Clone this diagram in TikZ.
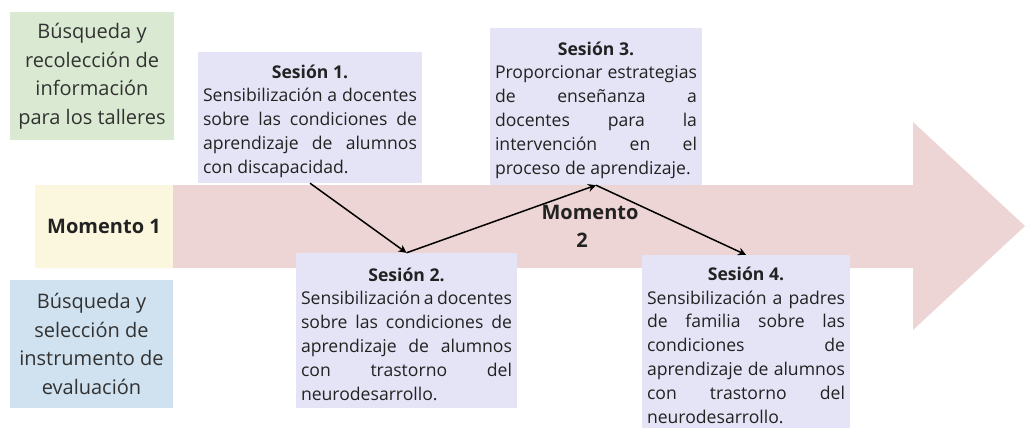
\documentclass[tikz,border=0pt]{standalone}
\usepackage{fontspec}
\setmainfont{Open Sans}
\usetikzlibrary{arrows.meta}
\definecolor{greenbox}{RGB}{218,234,210}
\definecolor{bluebox}{RGB}{208,226,240}
\definecolor{yellowbox}{RGB}{251,247,222}
\definecolor{pinkarrow}{RGB}{238,213,213}
\definecolor{sessfill}{RGB}{228,228,246}
\definecolor{txt}{RGB}{34,34,34}
\definecolor{sidetxt}{RGB}{50,50,50}
\newcommand\jl[1]{\makebox[\linewidth][s]{#1}\par}
\newcommand\ttl[1]{\spaceskip=0pt\relax\xspaceskip=0pt\relax\parindent=0pt\relax
  \makebox[\linewidth]{\bfseries #1}\par}
\newcommand\sessend{\par\kern-7pt}
\tikzset{
  sess/.style={fill=sessfill, text=txt, text width=#1, inner xsep=5pt, inner ysep=0pt,
    font=\fontsize{17.6}{23.8}\selectfont},
  side/.style={inner sep=0pt, align=center, text=sidetxt, font=\fontsize{20}{28.5}\selectfont},
  conn/.style={draw=black, line width=1.5pt, -{Stealth[length=8pt,width=8pt]}},
}
\begin{document}
\begin{tikzpicture}[x=1pt,y=-1pt]
\useasboundingbox (0,0) rectangle (1026,429);
% big arrow
\fill[pinkarrow] (35,185) -- (913,185) -- (913,122) -- (1025,226) -- (913,330) -- (913,268) -- (35,268) -- cycle;
% left boxes
\node[side, fill=greenbox, minimum width=164pt, minimum height=128pt] (g) at (92,76)
  {Búsqueda y\\recolección de\\información\\para los talleres};
\node[side, fill=bluebox, minimum width=163pt, minimum height=128pt] (b) at (91.5,344)
  {Búsqueda y\\selección de\\instrumento de\\evaluación};
\node[side, fill=yellowbox, minimum width=138pt, minimum height=83pt, text=txt, font=\fontsize{20}{27.5}\selectfont\bfseries] (m1) at (104,226.5)
  {Momento 1};
\node[side, text=txt, font=\fontsize{20}{28}\selectfont\bfseries] (m2) at (582,226)
  {\hspace*{16pt}Momento\\2};
% sessions
\node[sess=214pt, minimum height=131pt] (s1) at (310,117.5)
  {\ttl{Sesión 1.}\jl{Sensibilización a docentes}\jl{sobre las condiciones de}\jl{aprendizaje de alumnos}con discapacidad.\sessend};
\node[sess=211pt, minimum height=155pt] (s2) at (406.5,330.5)
  {\ttl{Sesión 2.}\jl{Sensibilización a docentes}\jl{sobre las condiciones de}\jl{aprendizaje de alumnos}\jl{con trastorno del}neurodesarrollo.\sessend};
\node[sess=202pt, minimum height=157pt] (s3) at (596,106.5)
  {\ttl{Sesión 3.}\jl{Proporcionar estrategias}\jl{de enseñanza a}\jl{docentes para la}\jl{intervención en el}proceso de aprendizaje.\sessend};
\node[sess=198pt, minimum height=173pt] (s4) at (746,341.5)
  {\ttl{Sesión 4.}\jl{Sensibilización a padres}\jl{de familia sobre las}\jl{condiciones de}\jl{aprendizaje de alumnos}\jl{con trastorno del}neurodesarrollo.\sessend};
% connectors
\draw[conn] (s1.south) -- (s2.north);
\draw[conn] (s2.north) -- (s3.south);
\draw[conn] (s3.south) -- (s4.north);
\end{tikzpicture}
\end{document}
